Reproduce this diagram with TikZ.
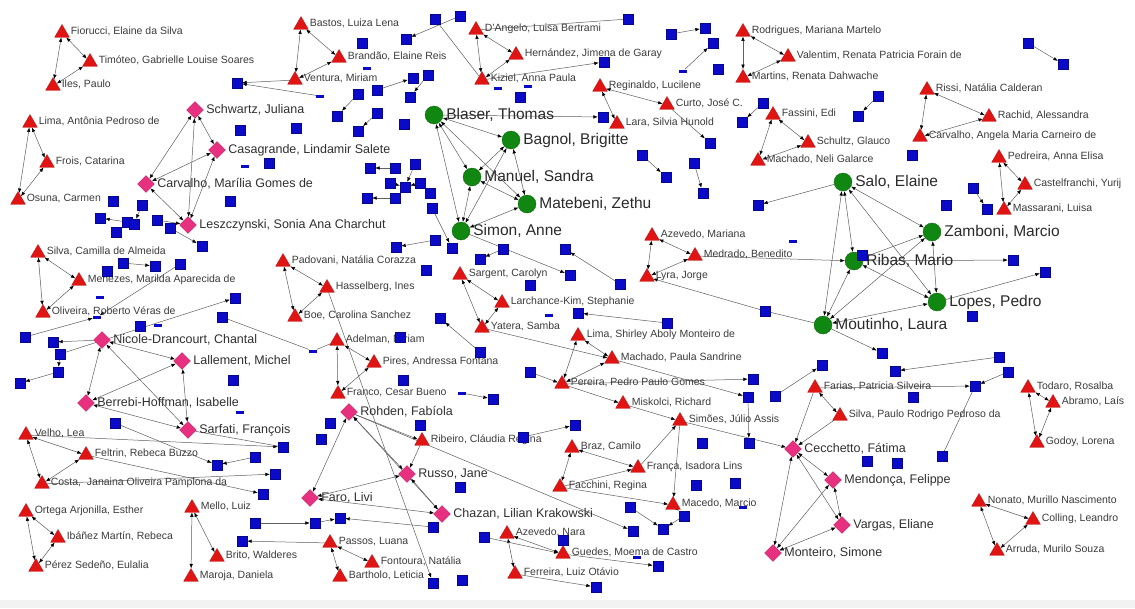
\documentclass[tikz,border=0pt]{standalone}
\usepackage{fontspec}
\setmainfont{Liberation Sans}
\usetikzlibrary{shapes.geometric,arrows.meta}
\pgfdeclarelayer{back}
\pgfdeclarelayer{bg}
\pgfsetlayers{back,bg,main}
\definecolor{tred}{RGB}{225,20,20}
\definecolor{dpink}{RGB}{232,48,128}
\definecolor{cgreen}{RGB}{16,135,16}
\definecolor{sblue}{RGB}{10,10,200}
\definecolor{edgec}{RGB}{95,95,95}
\definecolor{txt}{RGB}{60,60,60}
\tikzset{
 trin/.style={regular polygon,regular polygon sides=3,minimum size=17pt,inner sep=0pt,fill=tred,draw=tred!80!black,line width=0.3pt},
 dian/.style={diamond,minimum size=17pt,inner sep=0pt,fill=dpink,draw=dpink!80!black,line width=0.3pt},
 cirn/.style={circle,minimum size=18pt,inner sep=0pt,fill=cgreen,draw=cgreen!70!black,line width=0.3pt},
 sqn/.style={rectangle,minimum size=10pt,inner sep=0pt,fill=sblue,draw=sblue!70!black,line width=0.3pt},
 dshn/.style={rectangle,minimum width=8pt,minimum height=3pt,inner sep=0pt,fill=sblue},
 tlab/.style={font=\fontsize{10.5}{12}\selectfont,text=txt,inner sep=0.5pt,yshift=1.5pt,label distance=3pt},
 dlab/.style={font=\fontsize{12.5}{14}\selectfont,text=txt!80!black,inner sep=0.5pt,label distance=2pt},
 clab/.style={font=\fontsize{15.5}{17}\selectfont,text=txt!70!black,inner sep=0.5pt,label distance=2.5pt},
 ea/.style={draw=edgec,line width=0.5pt,-{Latex[length=4.5pt,width=3.5pt,color=black]}},
 eb/.style={draw=edgec,line width=0.5pt,{Latex[length=4.5pt,width=3.5pt,color=black]}-{Latex[length=4.5pt,width=3.5pt,color=black]}},
 el/.style={draw=edgec,line width=0.5pt},
}
\newcommand\mkT[3]{\node[trin,label={[tlab]right:{#3}}] (#1) at (#2) {};}
\newcommand\mkD[3]{\node[dian,label={[dlab]right:{#3}}] (#1) at (#2) {};}
\newcommand\mkC[3]{\node[cirn,label={[clab]right:{#3}}] (#1) at (#2) {};}
\newcommand\mkS[2]{\node[sqn] (#1) at (#2) {};}
\newcommand\mkH[2]{\node[dshn] (#1) at (#2) {};}
\begin{document}
\begin{tikzpicture}[x=1pt,y=-1pt]
\useasboundingbox (0,0) rectangle (1135,608);
\begin{pgfonlayer}{back}
\fill[white] (0,0) rectangle (1135,608);
\fill[gray!10] (0,600) rectangle (1135,608);
\end{pgfonlayer}
% triangles
\mkT{fio}{62,33}{Fiorucci, Elaine da Silva}
\mkT{tim}{90,62}{Timóteo, Gabrielle Louise Soares}
\mkT{ile}{53,86}{Iles, Paulo}
\mkT{lim}{30,123}{Lima, Antônia Pedroso de}
\mkT{fro}{47,163}{Frois, Catarina}
\mkT{osu}{18,200}{Osuna, Carmen}
\mkT{bas}{301,25}{Bastos, Luiza Lena}
\mkT{bra}{339,58}{Brandão, Elaine Reis}
\mkT{ven}{295,80}{Ventura, Miriam}
\mkT{dan}{476,30}{D'Angelo, Luisa Bertrami}
\mkT{her}{516,55}{Hernández, Jimena de Garay}
\mkT{kiz}{482,80}{Kiziel, Anna Paula}
\mkT{reg}{600,87}{Reginaldo, Lucilene}
\mkT{cur}{667,105}{Curto, José C.}
\mkT{lar}{617,124}{Lara, Silvia Hunold}
\mkT{rod}{743,32}{Rodrigues, Mariana Martelo}
\mkT{val}{788,57}{Valentim, Renata Patricia Forain de}
\mkT{mar}{743,78}{Martins, Renata Dahwache}
\mkT{fas}{773,115}{Fassini, Edi}
\mkT{scg}{808,143}{Schultz, Glauco}
\mkT{mng}{758,161}{Machado, Neli Galarce}
\mkT{ris}{927,90}{Rissi, Natália Calderan}
\mkT{rac}{989,117}{Rachid, Alessandra}
\mkT{cam}{920,137}{Carvalho, Angela Maria Carneiro de}
\mkT{ped}{999,158}{Pedreira, Anna Elisa}
\mkT{cyf}{1025,185}{Castelfranchi, Yurij}
\mkT{mas}{1004,210}{Massarani, Luisa}
\mkT{sca}{38,253}{Silva, Camilla de Almeida}
\mkT{mer}{79,281}{Menezes, Marilda Aparecida de}
\mkT{olr}{43,313}{Oliveira, Roberto Véras de}
\mkT{pad}{283,262}{Padovani, Natália Corazza}
\mkT{has}{327,288}{Hasselberg, Ines}
\mkT{boe}{295,317}{Boe, Carolina Sanchez}
\mkT{ade}{337,341}{Adelman, Miriam}
\mkT{pir}{374,363}{Pires, Andressa Fontana}
\mkT{fcb}{338,394}{Franco, Cesar Bueno}
\mkT{sgc}{460,275}{Sargent, Carolyn}
\mkT{lks}{502,303}{Larchance-Kim, Stephanie}
\mkT{yat}{482,328}{Yatera, Samba}
\mkT{azm}{652,236}{Azevedo, Mariana}
\mkT{mdb}{695,256}{Medrado, Benedito}
\mkT{lyj}{647,277}{Lyra, Jorge}
\mkT{lsh}{578,336}{Lima, Shirley Aboly Monteiro de}
\mkT{mps}{612,359}{Machado, Paula Sandrine}
\mkT{ppg}{562,384}{Pereira, Pedro Paulo Gomes}
\mkT{mis}{623,404}{Miskolci, Richard}
\mkT{sja}{680,421}{Simões, Júlio Assis}
\mkT{brc}{572,448}{Braz, Camilo}
\mkT{fil}{638,468}{França, Isadora Lins}
\mkT{fac}{560,487}{Facchini, Regina}
\mkT{mac}{673,505}{Macedo, Marcio}
\mkT{fps}{815,388}{Farias, Patricia Silveira}
\mkT{spr}{840,416}{Silva, Paulo Rodrigo Pedroso da}
\mkT{tod}{1028,388}{Todaro, Rosalba}
\mkT{abr}{1053,403}{Abramo, Laís}
\mkT{god}{1037,443}{Godoy, Lorena}
\mkT{non}{979,502}{Nonato, Murillo Nascimento}
\mkT{col}{1033,520}{Colling, Leandro}
\mkT{aru}{997,551}{Arruda, Murilo Souza}
\mkT{vel}{26,435}{Velho, Lea}
\mkT{fel}{86,455}{Feltrin, Rebeca Buzzo}
\mkT{cos}{42,484}{Costa,\ \ Janaina Oliveira Pamplona da}
\mkT{ort}{26,512}{Ortega Arjonilla, Esther}
\mkT{iba}{58,538}{Ibáñez Martín, Rebeca}
\mkT{pse}{36,567}{Pérez Sedeño, Eulalia}
\mkT{mel}{192,508}{Mello, Luiz}
\mkT{brw}{217,557}{Brito, Walderes}
\mkT{mad}{191,577}{Maroja, Daniela}
\mkT{pas}{330,543}{Passos, Luana}
\mkT{fon}{372,563}{Fontoura, Natália}
\mkT{bal}{340,577}{Bartholo, Leticia}
\mkT{rib}{422,441}{Ribeiro, Cláudia Regina}
\mkT{azn}{507,534}{Azevedo, Nara}
\mkT{gmc}{563,554}{Guedes, Moema de Castro}
\mkT{flo}{515,574}{Ferreira, Luiz Otávio}
% diamonds
\mkD{sjw}{195,110}{Schwartz, Juliana}
\mkD{csl}{217,150}{Casagrande, Lindamir Salete}
\mkD{cmg}{146,184}{Carvalho, Marília Gomes de}
\mkD{lsz}{188,225}{Leszczynski, Sonia Ana Charchut}
\mkD{ndc}{102,340}{Nicole-Drancourt, Chantal}
\mkD{lmi}{182,361}{Lallement, Michel}
\mkD{bhi}{86,403}{Berrebi-Hoffman, Isabelle}
\mkD{sfr}{188,430}{Sarfati, François}
\mkD{rfa}{349,412}{Rohden, Fabíola}
\mkD{rja}{407,474}{Russo, Jane}
\mkD{flv}{310,498}{Faro, Livi}
\mkD{clk}{442,514}{Chazan, Lilian Krakowski}
\mkD{cfa}{793,449}{Cecchetto, Fátima}
\mkD{mfe}{833,480}{Mendonça, Felippe}
\mkD{vae}{842,525}{Vargas, Eliane}
\mkD{msi}{773,553}{Monteiro, Simone}
% circles
\mkC{bth}{434,115}{Blaser, Thomas}
\mkC{bbr}{511,140}{Bagnol, Brigitte}
\mkC{msa}{472,177}{Manuel, Sandra}
\mkC{mze}{527,204}{Matebeni, Zethu}
\mkC{san}{461,231}{Simon, Anne}
\mkC{sel}{843,182}{Salo, Elaine}
\mkC{zmc}{932,232}{Zamboni, Marcio}
\mkC{rma}{854,261}{Ribas, Mario}
\mkC{lpe}{937,302}{Lopes, Pedro}
\mkC{mla}{823,325}{Moutinho, Laura}
% squares
\mkS{q1}{237,83}\mkS{q2}{240,130}\mkS{q3}{269,163}\mkH{dd1}{245,166}
\mkS{q4}{113,201}\mkS{q5}{142,205}\mkS{q6}{230,201}\mkS{q7}{100,218}
\mkS{q8}{127,222}\mkS{q9}{134,224}\mkS{q10}{116,232}\mkS{q11}{157,220}
\mkS{q12}{170,228}\mkS{q13}{202,246}\mkS{q14}{123,263}\mkS{q15}{155,266}
\mkS{q16}{180,264}\mkS{q17}{107,271}\mkH{dd2}{100,297}\mkH{dd3}{97,317}
\mkS{q18}{140,326}\mkH{dd4}{158,325}\mkS{q19}{235,298}\mkS{q20}{222,317}
\mkS{q21}{25,337}\mkS{q22}{53,342}\mkS{q23}{60,354}\mkS{q24}{58,372}
\mkS{q25}{20,383}\mkS{q26}{233,380}
\mkS{q27}{435,19}\mkS{q28}{460,16}\mkS{q29}{406,39}\mkS{q30}{362,43}
\mkH{dd5}{367,68}\mkS{q31}{413,78}\mkS{q32}{428,75}\mkS{q33}{410,97}
\mkS{q34}{377,90}\mkS{q35}{358,94}\mkH{dd6}{320,96}\mkS{q36}{337,116}
\mkS{q37}{377,113}\mkS{q38}{358,131}\mkS{q39}{404,124}\mkS{q40}{296,128}
\mkS{q41}{370,168}\mkS{q42}{395,168}\mkS{q43}{415,164}\mkS{q44}{390,183}
\mkS{q45}{405,187}\mkS{q46}{420,183}\mkS{q47}{430,193}\mkS{q48}{367,198}
\mkS{q49}{395,198}\mkS{q50}{432,208}\mkH{dd7}{498,88}\mkS{q51}{520,97}
\mkH{dd8}{528,86}
\mkS{q52}{628,19}\mkS{q53}{604,62}\mkS{q54}{671,34}\mkS{q55}{705,28}
\mkS{q56}{713,43}\mkH{dd9}{683,71}\mkS{q57}{718,69}\mkS{q58}{603,117}
\mkS{q59}{763,103}\mkS{q60}{742,122}\mkS{q61}{710,143}\mkS{q62}{642,155}
\mkS{q63}{666,177}\mkS{q64}{694,163}\mkS{q65}{703,193}\mkS{q66}{758,205}
\mkS{q67}{1028,43}\mkS{q68}{1063,64}\mkS{q69}{878,96}\mkS{q70}{858,116}
\mkS{q71}{912,155}\mkS{q72}{973,188}\mkS{q73}{946,205}\mkS{q74}{987,209}
\mkS{q75}{435,240}\mkS{q76}{396,247}\mkS{q77}{452,248}\mkS{q78}{480,259}
\mkS{q79}{503,249}\mkS{q80}{426,270}\mkS{q81}{530,285}\mkS{q82}{565,249}
\mkS{q83}{570,275}\mkS{q84}{620,284}\mkS{q85}{440,318}\mkS{q86}{480,352}
\mkS{q87}{400,337}\mkS{q88}{403,380}\mkH{dd10}{462,393}\mkS{q89}{493,399}
\mkS{q90}{530,372}\mkH{dd11}{549,315}\mkH{dd12}{313,351}\mkS{q91}{578,313}
\mkS{q92}{667,323}\mkS{q93}{765,311}\mkH{dd13}{793,241}\mkS{q94}{753,379}
\mkS{q95}{748,397}\mkS{q96}{775,396}\mkS{q97}{822,365}
\mkS{q100}{1013,260}\mkS{q101}{1045,272}\mkS{q102}{972,316}\mkS{q103}{882,353}
\mkS{q104}{895,371}\mkS{q105}{999,357}\mkS{q106}{1008,372}\mkS{q107}{975,386}
\mkS{q108}{913,397}\mkS{q109}{862,255}\mkS{q110}{867,461}\mkS{q111}{897,463}
\mkS{q112}{942,456}\mkS{q113}{575,425}\mkS{q114}{702,443}\mkS{q115}{749,443}
\mkS{q118}{696,485}\mkS{q119}{735,483}\mkS{q120}{630,507}\mkS{q121}{684,516}
\mkS{q122}{663,529}\mkS{q123}{633,531}\mkS{q124}{658,566}\mkS{q125}{596,587}
\mkS{q126}{563,540}\mkH{dd14}{637,557}\mkH{dd15}{743,507}
\mkS{q127}{330,423}\mkS{q128}{321,439}\mkS{q129}{283,447}\mkS{q130}{420,425}
\mkS{q131}{523,437}\mkS{q132}{460,487}\mkS{q133}{340,518}\mkS{q134}{315,523}
\mkS{q135}{433,527}\mkS{q136}{484,537}\mkS{q138}{433,583}\mkS{q139}{462,580}
\mkS{q142}{115,423}\mkS{q143}{217,465}\mkS{q144}{255,457}\mkS{q145}{275,474}
\mkS{q146}{263,494}\mkS{q147}{255,523}\mkS{q148}{242,541}\mkH{dd16}{240,412}
% edges
\begin{pgfonlayer}{bg}
\foreach \a/\b in {fio/tim,fio/ile,tim/ile,lim/fro,lim/osu,fro/osu,bas/bra,bas/ven,bra/ven,
 dan/her,dan/kiz,kiz/her,reg/cur,reg/lar,rod/val,rod/mar,mar/val,fas/scg,fas/mng,mng/scg,
 ris/rac,ris/cam,cam/rac,ped/cyf,ped/mas,mas/cyf,sca/mer,sca/olr,olr/mer,pad/has,pad/boe,boe/has,
 ade/pir,ade/fcb,fcb/pir,sgc/lks,sgc/yat,yat/lks,azm/mdb,azm/lyj,lyj/mdb,lsh/mps,lsh/ppg,ppg/mps,
 tod/abr,tod/god,god/abr,non/col,non/aru,aru/col,vel/fel,vel/cos,cos/fel,ort/iba,ort/pse,pse/iba,
 mel/brw,mel/mad,pas/fon,pas/bal,azn/gmc,azn/flo,fps/spr,brc/fil,fac/brc,
 sjw/csl,sjw/cmg,sjw/lsz,csl/cmg,csl/lsz,cmg/lsz,
 ndc/lmi,ndc/bhi,ndc/sfr,lmi/bhi,lmi/sfr,bhi/sfr,
 rfa/rja,rfa/flv,rfa/clk,rja/flv,rja/clk,flv/clk,
 cfa/mfe,cfa/vae,cfa/msi,mfe/vae,mfe/msi,vae/msi,
 bth/bbr,bth/msa,bth/mze,bth/san,bbr/msa,bbr/mze,bbr/san,msa/mze,msa/san,mze/san,
 sel/zmc,sel/rma,sel/lpe,sel/mla,zmc/rma,zmc/lpe,zmc/mla,rma/lpe,rma/mla,lpe/mla}
 \draw[eb] (\a) -- (\b);
\foreach \a/\b in {mis/sja,fil/sja,sja/mac,fac/mac,fac/fil,fps/cfa,spr/cfa,sja/cfa,rfa/rib,rib/rja,
 ven/q1,dd6/q1,q28/q29,q34/q31,q32/q33,q35/q36,q37/q38,q42/q41,q43/q45,q44/q45,q46/q45,q49/q48,
 q50/q77,q75/q76,q79/q78,san/q83,q86/q85,q84/q82,q92/q91,q90/ppg,yat/mps,ppg/mis,ppg/q94,mps/q95,
 q96/q97,q93/lyj,mdb/rma,sel/q66,rma/q100,lpe/q101,mla/q103,q105/q104,q106/q107,fps/q107,
 q67/q68,q69/q70,q72/q74,q54/q55,dd9/q56,q59/q60,q62/q63,q64/q65,kiz/q53,bth/q58,cur/q61,q95/q115,
 q8/q7,q5/q9,q11/lsz,q12/q13,q14/q15,q16/dd3,q21/dd3,q23/q19,ndc/q22,q23/q24,q24/q25,
 vel/q129,q142/q143,q144/q143,cos/q145,fel/q146,pas/q148,q147/q134,q134/q133,q135/q133,
 dd10/q89,has/q138,rfa/q123,gmc/q124,flo/q125,q136/gmc,q120/q122,q121/q122,mac/q121,q131/q113}
 \draw[ea] (\a) -- (\b);
\foreach \a/\b in {q27/kiz,mla/q93,q107/q112,dan/q52,dd12/ade,q20/dd12,sfr/q129}
 \draw[el] (\a) -- (\b);
\end{pgfonlayer}
\end{tikzpicture}
\end{document}
